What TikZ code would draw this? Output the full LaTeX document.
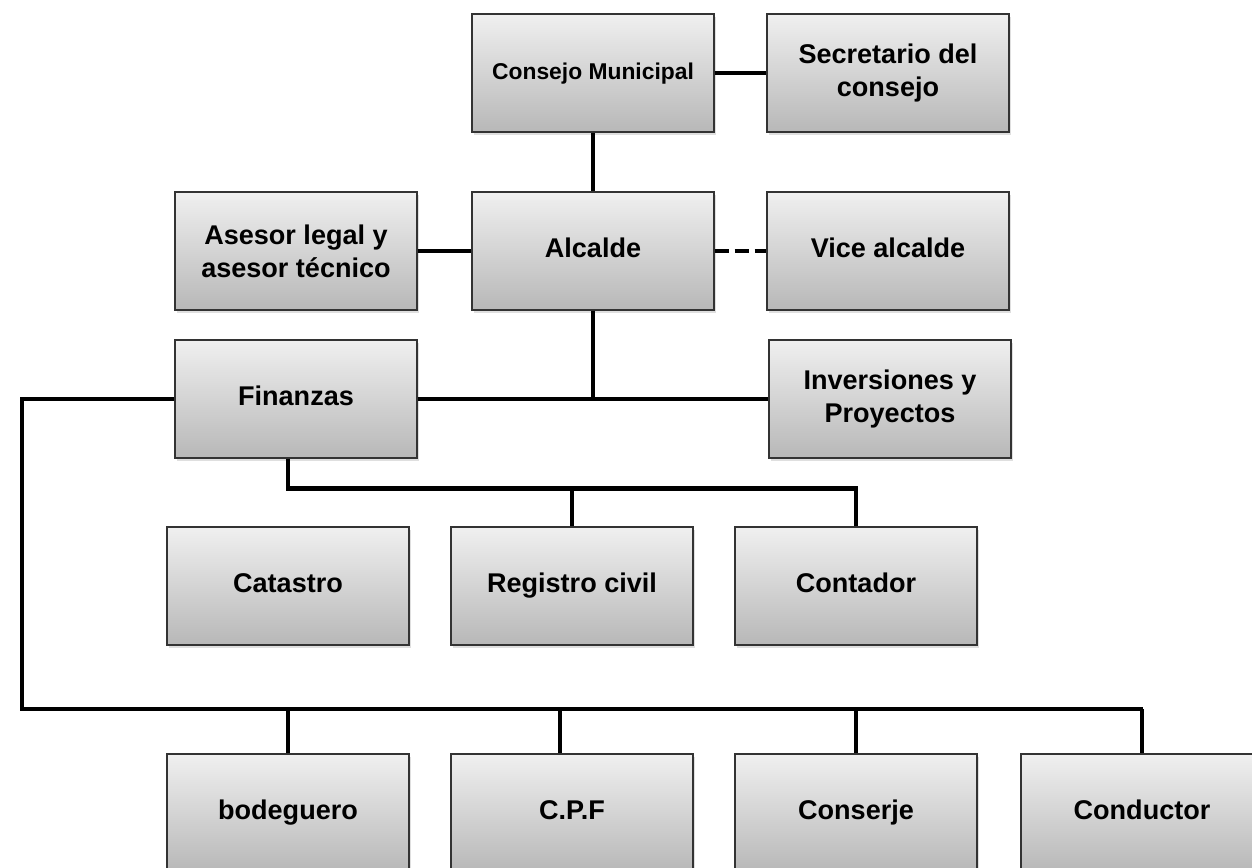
\documentclass[tikz,border=0pt]{standalone}
\usepackage{fontspec}
\setmainfont{Liberation Sans}
\usetikzlibrary{shadows}

\tikzset{
  orgbox/.style={draw=black!80, line width=0.8pt, top color=black!6, bottom color=black!28,
    minimum width=4.84cm, minimum height=2.36cm, inner sep=2pt, align=center,
    font=\fontsize{15.4}{18.6}\selectfont\bfseries,
    drop shadow={shadow xshift=1pt, shadow yshift=-1.5pt, opacity=0.25}},
  oneline/.style={text height=0.72em, text depth=0em},
  orgline/.style={line width=2.8pt},
}

\begin{document}
\begin{tikzpicture}[x=0.02cm, y=-0.02cm]
    \clip (0,0) rectangle (1252,867);

    \node[orgbox, oneline, font=\fontsize{13}{15.6}\selectfont\bfseries] (consejo) at (593,73) {Consejo Municipal};
    \node[orgbox] (secretario) at (888,73) {Secretario del\\consejo};

    \node[orgbox] (asesor) at (296,251) {Asesor legal y\\asesor técnico};
    \node[orgbox, oneline] (alcalde) at (593,251) {Alcalde};
    \node[orgbox, oneline] (vice) at (888,251) {Vice alcalde};

    \node[orgbox, oneline] (finanzas) at (296,399) {Finanzas};
    \node[orgbox] (inversiones) at (890,399) {Inversiones y\\Proyectos};

    \node[orgbox, oneline] (catastro) at (288,586) {Catastro};
    \node[orgbox, oneline] (registro) at (572,586) {Registro civil};
    \node[orgbox, oneline] (contador) at (856,586) {Contador};

    \node[orgbox, oneline] (bodeguero) at (288,813) {bodeguero};
    \node[orgbox, oneline] (cpf) at (572,813) {C.P.F};
    \node[orgbox, oneline] (conserje) at (856,813) {Conserje};
    \node[orgbox, oneline] (conductor) at (1142,813) {Conductor};

    \draw[orgline] (consejo) -- (secretario);
    \draw[orgline] (consejo) -- (alcalde);
    \draw[orgline] (asesor) -- (alcalde);
    \draw[orgline, dash pattern=on 0.28cm off 0.12cm] (alcalde) -- (vice);
    \draw[orgline] (alcalde.south) -- (alcalde.south |- finanzas.east);
    \draw[orgline] (finanzas) -- (inversiones);

    % ramal de finanzas
    \draw[orgline] (finanzas.south -| catastro) -- ++(0,30) coordinate (fbus) -| (contador.north);
    \draw[orgline] (fbus -| registro) -- (registro.north);

    % barra inferior
    \coordinate (busleft) at (22,709);
    \coordinate (busright) at (1143,709);
    \coordinate (cpfdrop) at ([xshift=-0.24cm]cpf.north);
    \draw[orgline] (finanzas.west) -| (busleft) -- (busright);
    \foreach \n in {bodeguero, conserje, conductor}
        \draw[orgline] (busleft -| \n) -- (\n.north);
    \draw[orgline] (busleft -| cpfdrop) -- (cpfdrop);
\end{tikzpicture}
\end{document}
